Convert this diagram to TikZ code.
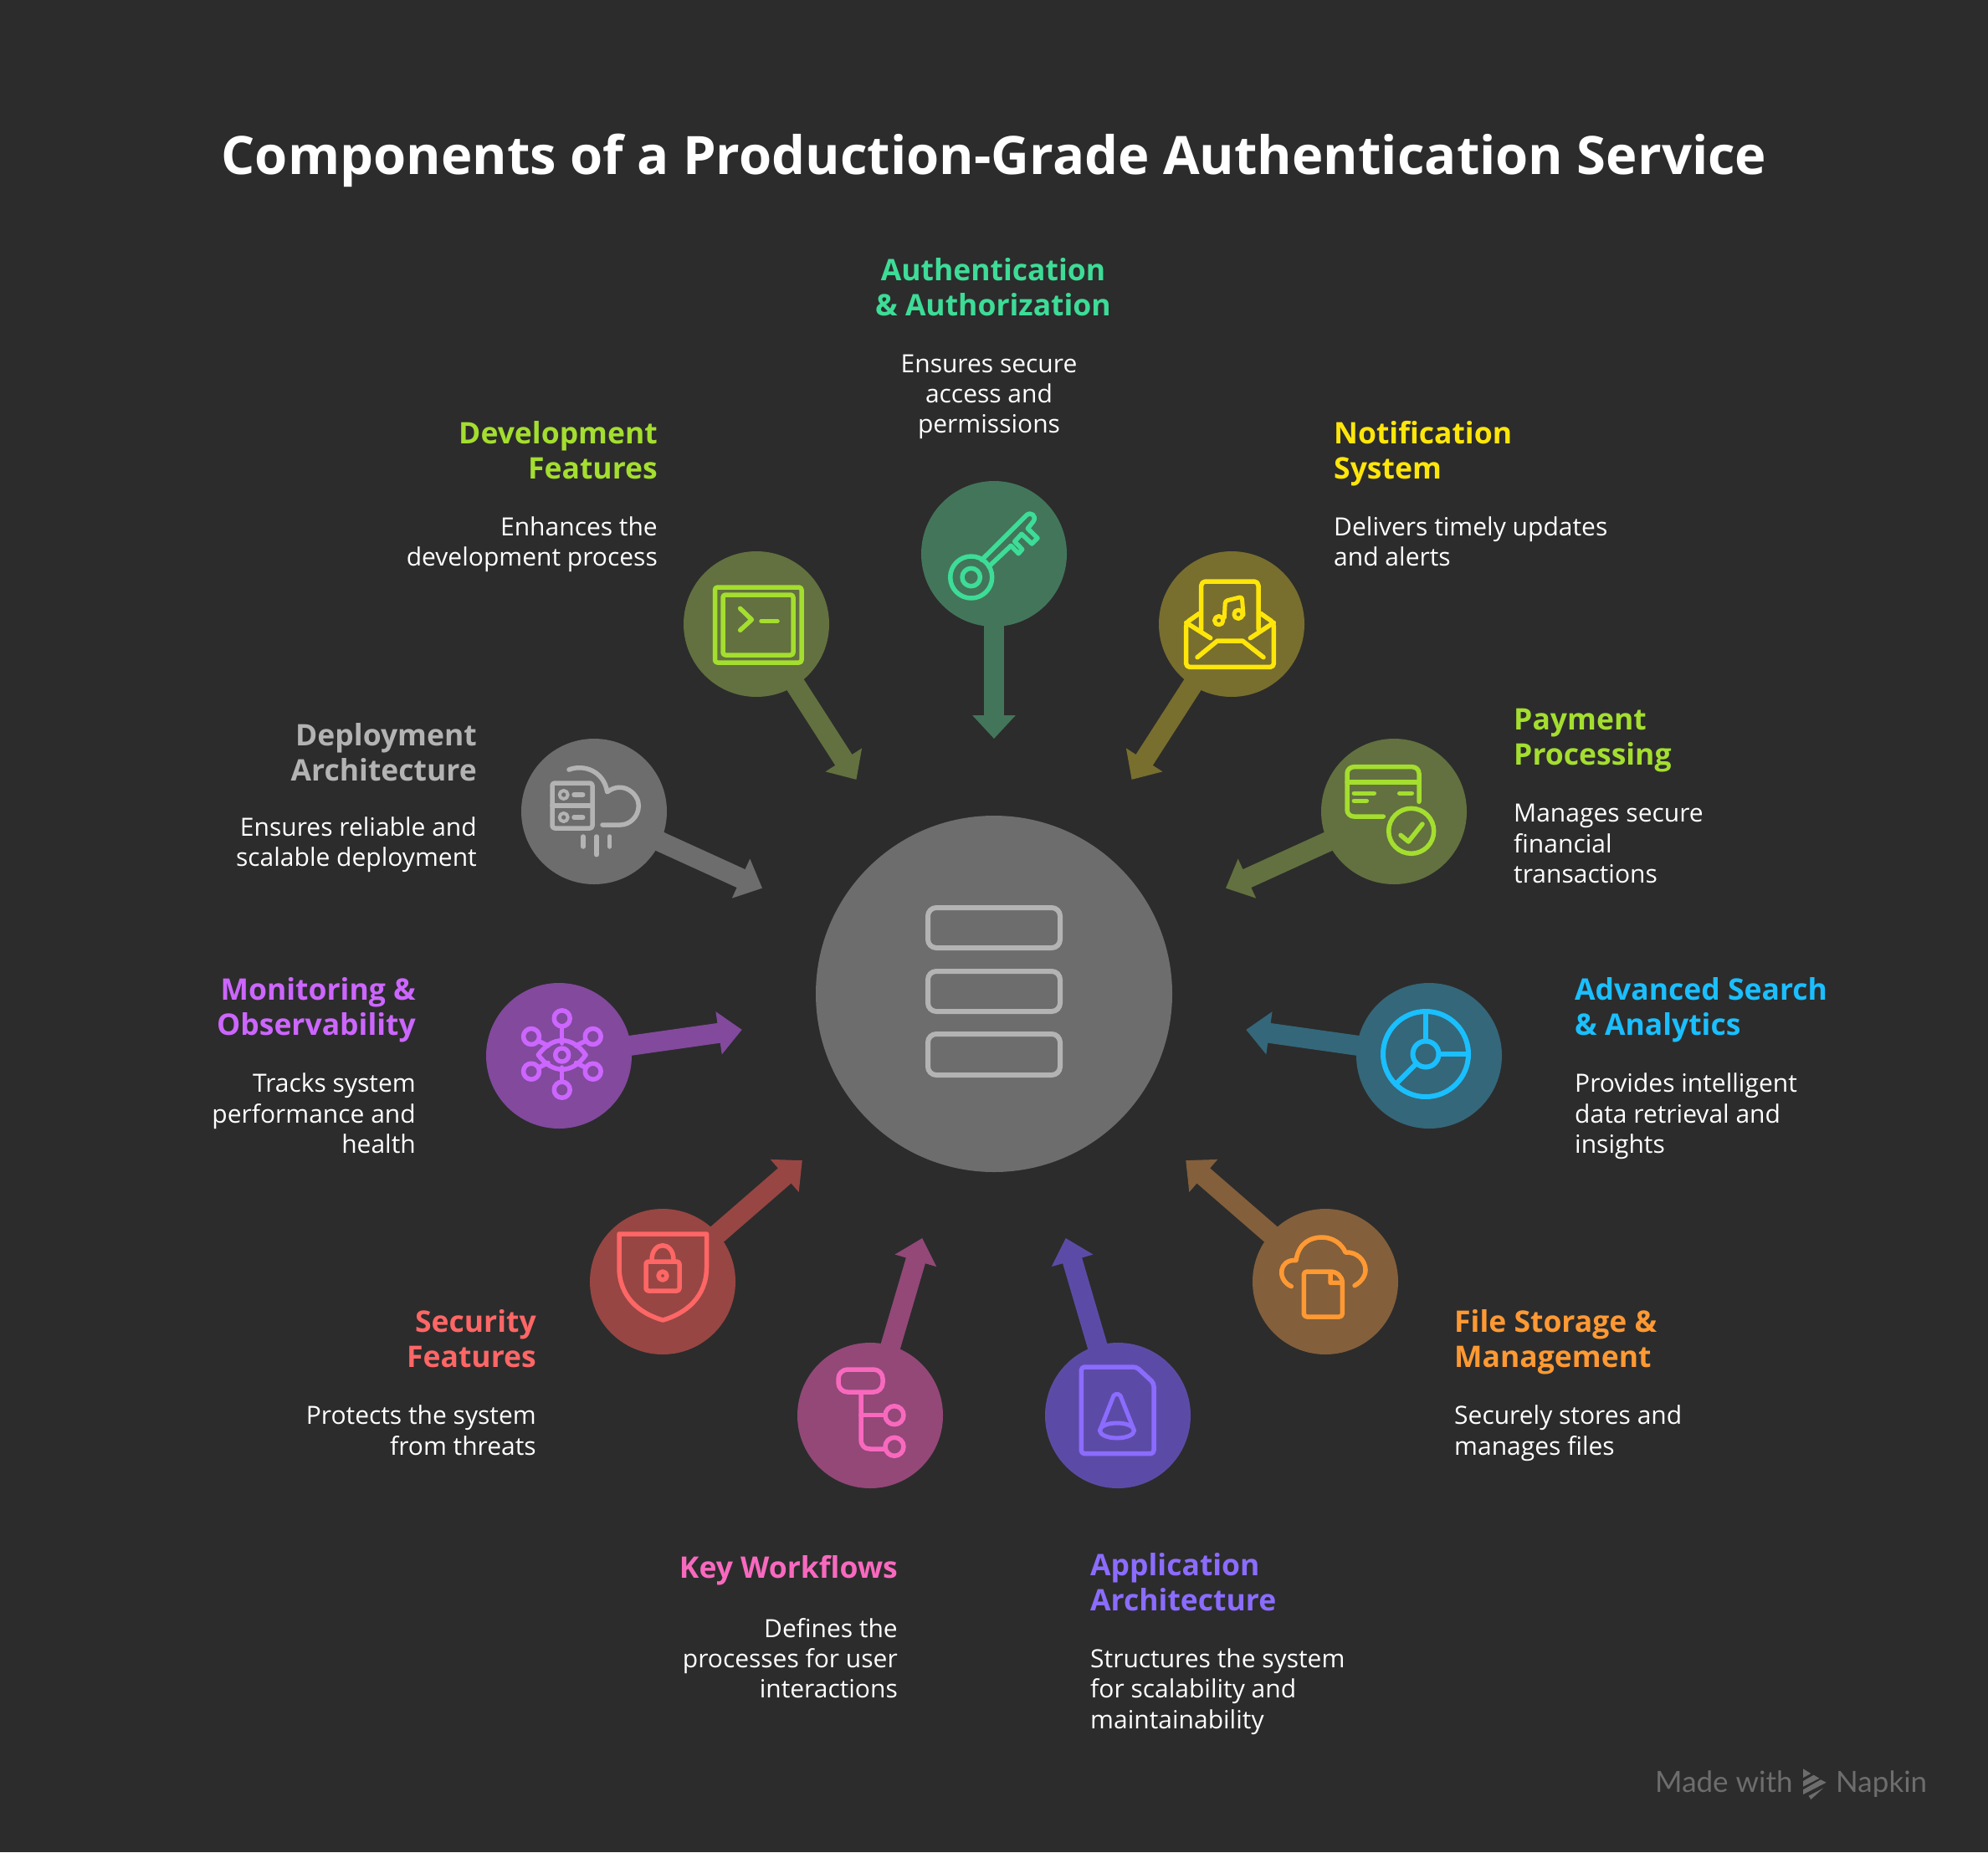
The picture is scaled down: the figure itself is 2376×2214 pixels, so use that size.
\documentclass[tikz,border=0pt]{standalone}
\usepackage{fontspec}
\setmainfont{Open Sans}
\newfontfamily\wmfont{Lato}
\usetikzlibrary{calc,arrows.meta}
\definecolor{bgc}{HTML}{2C2C2C}
\definecolor{hubc}{HTML}{6D6D6D}
\definecolor{hubi}{HTML}{B3B3B3}
\definecolor{authc}{HTML}{43755B}
\definecolor{authi}{HTML}{3DDC97}
\definecolor{limec}{HTML}{62713F}
\definecolor{limei}{HTML}{A4DE2F}
\definecolor{yelc}{HTML}{786E2E}
\definecolor{yeli}{HTML}{FFE60A}
\definecolor{bluc}{HTML}{346779}
\definecolor{blui}{HTML}{1ABFFF}
\definecolor{orac}{HTML}{835F3B}
\definecolor{orai}{HTML}{FF9933}
\definecolor{vioc}{HTML}{5C4BA6}
\definecolor{vioi}{HTML}{8B6CFF}
\definecolor{pinc}{HTML}{934878}
\definecolor{pini}{HTML}{F869BE}
\definecolor{redc}{HTML}{974643}
\definecolor{redi}{HTML}{FF6666}
\definecolor{purc}{HTML}{82499D}
\definecolor{puri}{HTML}{CC66FF}
\tikzset{
  sat/.style={circle,minimum size=174pt,inner sep=0pt,fill=#1},
  arr/.style={draw=#1,line width=24pt,shorten <=-3pt,-{Triangle[length=28pt,width=50pt]}},
  ico/.style={draw=#1,line width=5.5pt,line cap=round,line join=round},
  headl/.style={text=#1,inner sep=0pt,font=\fontsize{35.5}{42}\selectfont\bfseries},
  descl/.style={text=white,inner sep=0pt,font=\fontsize{30}{36.4}\selectfont},
}
\newcommand{\arrowto}[2]{%
  \coordinate (#2tip) at ($(#2)!221pt!(hub)$);
  \draw[arr=#1] (#2) -- (#2tip);}
\begin{document}
\begin{tikzpicture}[x=1pt,y=-1pt]
\fill[bgc] (0,0) rectangle (2376,2214);
\useasboundingbox (0,0) rectangle (2376,2214);
% title
\node[text=white,inner sep=0pt,anchor=base,font=\fontsize{63.3}{70}\selectfont\bfseries] (title) at (1188,208) {Components of a Production-Grade Authentication Service};
% hub
\node[circle,minimum size=426pt,inner sep=0pt,fill=hubc] (hub) at (1188,1188) {};
\draw[ico=hubi,line width=6pt,rounded corners=10pt] (1109,1085) rectangle (1267,1133);
\draw[ico=hubi,line width=6pt,rounded corners=10pt] (1109,1161) rectangle (1267,1209);
\draw[ico=hubi,line width=6pt,rounded corners=10pt] (1109,1236) rectangle (1267,1285);
% satellites and connectors
\node[sat=authc] (auth) at (1188,662) {}; \arrowto{authc}{auth}
\node[sat=limec] (dev) at (904,746) {}; \arrowto{limec}{dev}
\node[sat=yelc] (notif) at (1472,746) {}; \arrowto{yelc}{notif}
\node[sat=hubc] (depl) at (710,970) {}; \arrowto{hubc}{depl}
\node[sat=limec] (pay) at (1666,970) {}; \arrowto{limec}{pay}
\node[sat=purc] (moni) at (668,1262) {}; \arrowto{purc}{moni}
\node[sat=bluc] (adv) at (1708,1262) {}; \arrowto{bluc}{adv}
\node[sat=redc] (secu) at (792,1532) {}; \arrowto{redc}{secu}
\node[sat=orac] (file) at (1584,1532) {}; \arrowto{orac}{file}
\node[sat=pinc] (flow) at (1040,1692) {}; \arrowto{pinc}{flow}
\node[sat=vioc] (appl) at (1336,1692) {}; \arrowto{vioc}{appl}
% key icon
\begin{scope}[ico=authi]
\draw (1160.7,690) circle[radius=25];
\draw (1160.7,690) circle[radius=10.7];
\draw (1173.3,669.3) -- (1226.7,616) .. controls (1231.7,611) and (1239.5,616.5) .. (1235,623.3) -- (1228.3,631.7) -- (1240,643.3) -- (1233.3,650) -- (1221,638.3) -- (1212.7,647.3) -- (1221.7,656.7) -- (1217.3,661.7) -- (1208.3,652.3) -- (1181.7,677.3);
\end{scope}
% terminal icon
\begin{scope}[ico=limei,rounded corners=3pt]
\draw (854.5,702) rectangle (958,792);
\draw (864,711) rectangle (948,783);
\draw[rounded corners=0pt] (884.6,727.3) -- (898.4,740.7) -- (884.6,753.3);
\draw[rounded corners=0pt] (910,742.3) -- (929,742.3);
\end{scope}
% mail icon
\begin{scope}[ico=yeli]
\draw[rounded corners=5pt] (1435.7,752) -- (1435.7,695) -- (1504,695) -- (1504,752);
\draw[rounded corners=4pt] (1433.3,733.3) -- (1417.7,744.3) -- (1417.7,797.3) -- (1522.3,797.3) -- (1522.3,744.3) -- (1506.7,733.3);
\draw (1417.7,744.3) -- (1446.7,762.7);
\draw (1522.3,744.3) -- (1494.3,762.7);
\draw (1431,785.7) -- (1455,766) -- (1485,766) -- (1510,785.7);
\draw[line width=5pt] (1456.7,741.7) circle[radius=5.2];
\draw[line width=5pt] (1480,734.3) circle[radius=5.2];
\draw[line width=5pt,rounded corners=3pt] (1463.3,738.3) -- (1464.3,718.3) -- (1484.3,713.3) -- (1486,735);
\end{scope}
% deployment icon
\begin{scope}[ico=hubi]
\draw[rounded corners=3pt] (660,936) rectangle (708,990);
\draw (660,963) -- (708,963);
\draw[line width=4pt] (673.7,950) circle[radius=5];
\draw[line width=4pt] (673.7,977) circle[radius=5];
\draw (686,950) -- (696.7,950);
\draw (686,977) -- (696.7,977);
\draw (680,920) .. controls (698,913) and (722,922) .. (725.7,946.7) .. controls (745,932) and (764,950) .. (763.3,963.3) .. controls (763,977) and (752,986) .. (741.7,986) -- (720,986);
\draw (697,1000) -- (697,1012);
\draw (713,1000) -- (713,1021.7);
\draw (728.7,1000) -- (728.7,1012);
\end{scope}
% monitoring icon
\begin{scope}[ico=puri]
\foreach \px/\py in {671.7/1217.3,635/1239,708.7/1239,635/1280.7,708.7/1280.7,671.7/1302.7}
  \draw (\px,\py) circle[radius=9.5];
\draw (671.7,1261) circle[radius=8];
\draw (643.3,1261) .. controls (660,1238) and (684,1238) .. (700,1261) .. controls (684,1284) and (660,1284) .. (643.3,1261);
\draw (671.7,1229) -- (671.7,1247);
\draw (671.7,1276) -- (671.7,1292);
\draw (645,1245) -- (655,1250);
\draw (698.5,1245) -- (688.5,1250);
\draw (645,1275.5) -- (655,1270.5);
\draw (698.5,1275.5) -- (688.5,1270.5);
\end{scope}
% payment icon
\begin{scope}[ico=limei]
\draw[rounded corners=8pt] (1653.3,976) -- (1610,976) -- (1610,916.7) -- (1696,916.7) -- (1696,958.3);
\draw (1610,935) -- (1696,935);
\draw (1618.3,948.3) -- (1642.3,948.3);
\draw (1618.3,957.3) -- (1633.3,957.3);
\draw (1672.7,948.3) -- (1687.3,948.3);
\draw (1686.7,993.3) circle[radius=27];
\draw (1674,998.3) -- (1683.3,1006) -- (1700,985);
\end{scope}
% analytics icon
\begin{scope}[ico=blui,line width=6pt]
\draw (1704,1260) circle[radius=51];
\draw (1704,1260) circle[radius=15.5];
\draw (1704,1209) -- (1704,1244.5);
\draw (1719.5,1260) -- (1755,1260);
\draw (1693,1271) -- (1668,1296);
\end{scope}
% shield icon
\begin{scope}[ico=redi]
\draw (740,1475) -- (844.5,1475) -- (844.5,1515) .. controls (844.5,1550) and (820,1570) .. (792.2,1578) .. controls (764,1570) and (740,1550) .. (740,1515) -- cycle;
\draw[rounded corners=3pt] (772,1508) rectangle (812,1543);
\draw (779,1506) .. controls (779,1483) and (805,1483) .. (805,1506);
\draw (792,1525) circle[radius=5];
\end{scope}
% workflow icon
\begin{scope}[ico=pini]
\draw[rounded corners=11pt] (1002,1637) rectangle (1055,1664);
\draw (1029,1665) -- (1029,1720) .. controls (1029,1728) and (1033,1732) .. (1040,1732) -- (1057,1732);
\draw (1029,1691.7) -- (1057,1691.7);
\draw (1069,1691.7) circle[radius=11];
\draw (1069,1729.3) circle[radius=11];
\end{scope}
% document and cone icon
\begin{scope}[ico=vioi]
\draw[rounded corners=4pt] (1292.3,1634) -- (1358.3,1634) -- (1379,1653.3) -- (1379,1737.7) -- (1292.3,1737.7) -- cycle;
\draw[line width=5pt] (1335,1710) ellipse[x radius=20.5,y radius=9];
\draw[line width=5pt,rounded corners=2pt] (1314.5,1710) -- (1331.7,1666.5) -- (1338.3,1666.5) -- (1355.5,1710);
\end{scope}
% cloud file icon
\begin{scope}[ico=orai]
\draw (1543.3,1537.7) .. controls (1526,1530) and (1528,1505) .. (1549,1506.5) .. controls (1552,1486) and (1566,1479) .. (1580,1479) .. controls (1593,1479) and (1604,1487) .. (1608,1497) .. controls (1622,1496) and (1632,1507) .. (1632,1518) .. controls (1632,1526) and (1626,1533) .. (1619,1536.7);
\draw (1590,1520) -- (1562,1520) .. controls (1560,1520) and (1558.3,1521.5) .. (1558.3,1523.5) -- (1558.3,1570.5) .. controls (1558.3,1572.5) and (1560,1574) .. (1562,1574) -- (1600.8,1574) .. controls (1602.8,1574) and (1604.3,1572.5) .. (1604.3,1570.5) -- (1604.3,1533.3) .. controls (1604.3,1526) and (1598,1520) .. (1590,1520) -- (1590,1533.3) -- (1604.3,1533.3);
\end{scope}
% texts (the base anchor of a multi-line node is on its last line)
\node[headl=authi,align=center,anchor=base] (h1) at (1187,377) {Authentication\\\& Authorization};
\node[descl,align=center,anchor=base] (d1) at (1182,517.8) {Ensures secure\\access and\\permissions};
\node[headl=limei,align=right,anchor=base east] (h2) at (786,572) {Development\\Features};
\node[descl,align=right,anchor=base east] (d2) at (786,676.4) {Enhances the\\development process};
\node[headl=yeli,align=left,anchor=base west] (h3) at (1594,572) {Notification\\System};
\node[descl,align=left,anchor=base west] (d3) at (1594,676.4) {Delivers timely updates\\and alerts};
\node[headl=hubi,align=right,anchor=base east] (h4) at (570,933) {Deployment\\Architecture};
\node[descl,align=right,anchor=base east] (d4) at (570,1035.9) {Ensures reliable and\\scalable deployment};
\node[headl=limei,align=left,anchor=base west] (h5) at (1809,914.7) {Payment\\Processing};
\node[descl,align=left,anchor=base west] (d5) at (1809,1055.6) {Manages secure\\financial\\transactions};
\node[headl=puri,align=right,anchor=base east] (h6) at (497,1237.5) {Monitoring \&\\Observability};
\node[descl,align=right,anchor=base east] (d6) at (497,1378.4) {Tracks system\\performance and\\health};
\node[headl=blui,align=left,anchor=base west] (h7) at (1882,1237.5) {Advanced Search\\\& Analytics};
\node[descl,align=left,anchor=base west] (d7) at (1882,1378.4) {Provides intelligent\\data retrieval and\\insights};
\node[headl=redi,align=right,anchor=base east] (h8) at (641,1634.5) {Security\\Features};
\node[descl,align=right,anchor=base east] (d8) at (641,1739) {Protects the system\\from threats};
\node[headl=orai,align=left,anchor=base west] (h9) at (1738,1634.5) {File Storage \&\\Management};
\node[descl,align=left,anchor=base west] (d9) at (1738,1739) {Securely stores and\\manages files};
\node[headl=pini,align=right,anchor=base east] (h10) at (1073,1886.5) {Key Workflows};
\node[descl,align=right,anchor=base east] (d10) at (1073,2029.8) {Defines the\\processes for user\\interactions};
\node[headl=vioi,align=left,anchor=base west] (h11) at (1303,1925.4) {Application\\Architecture};
\node[descl,align=left,anchor=base west] (d11) at (1303,2066.3) {Structures the system\\for scalability and\\maintainability};
% watermark
\node[text=hubc,inner sep=0pt,anchor=base west,font=\wmfont\fontsize{35}{38}\selectfont] (wm1) at (1978,2142) {Made with};
\node[text=hubc,inner sep=0pt,anchor=base west,font=\wmfont\fontsize{35}{38}\selectfont] (wm2) at (2194,2142) {Napkin};
\fill[hubc] (2155,2114.3) -- (2164.3,2120) -- (2155,2125) -- cycle;
\fill[hubc] (2155,2129) -- (2167.7,2121.7) -- (2174.3,2125.7) -- (2155,2135.7) -- cycle;
\fill[hubc] (2155,2139.3) -- (2176,2127.3) -- (2182.7,2130.7) -- (2155,2145) -- cycle;
\fill[hubc] (2161.7,2146.7) -- (2179.3,2137.3) -- (2164.3,2151) -- cycle;
\end{tikzpicture}
\end{document}
